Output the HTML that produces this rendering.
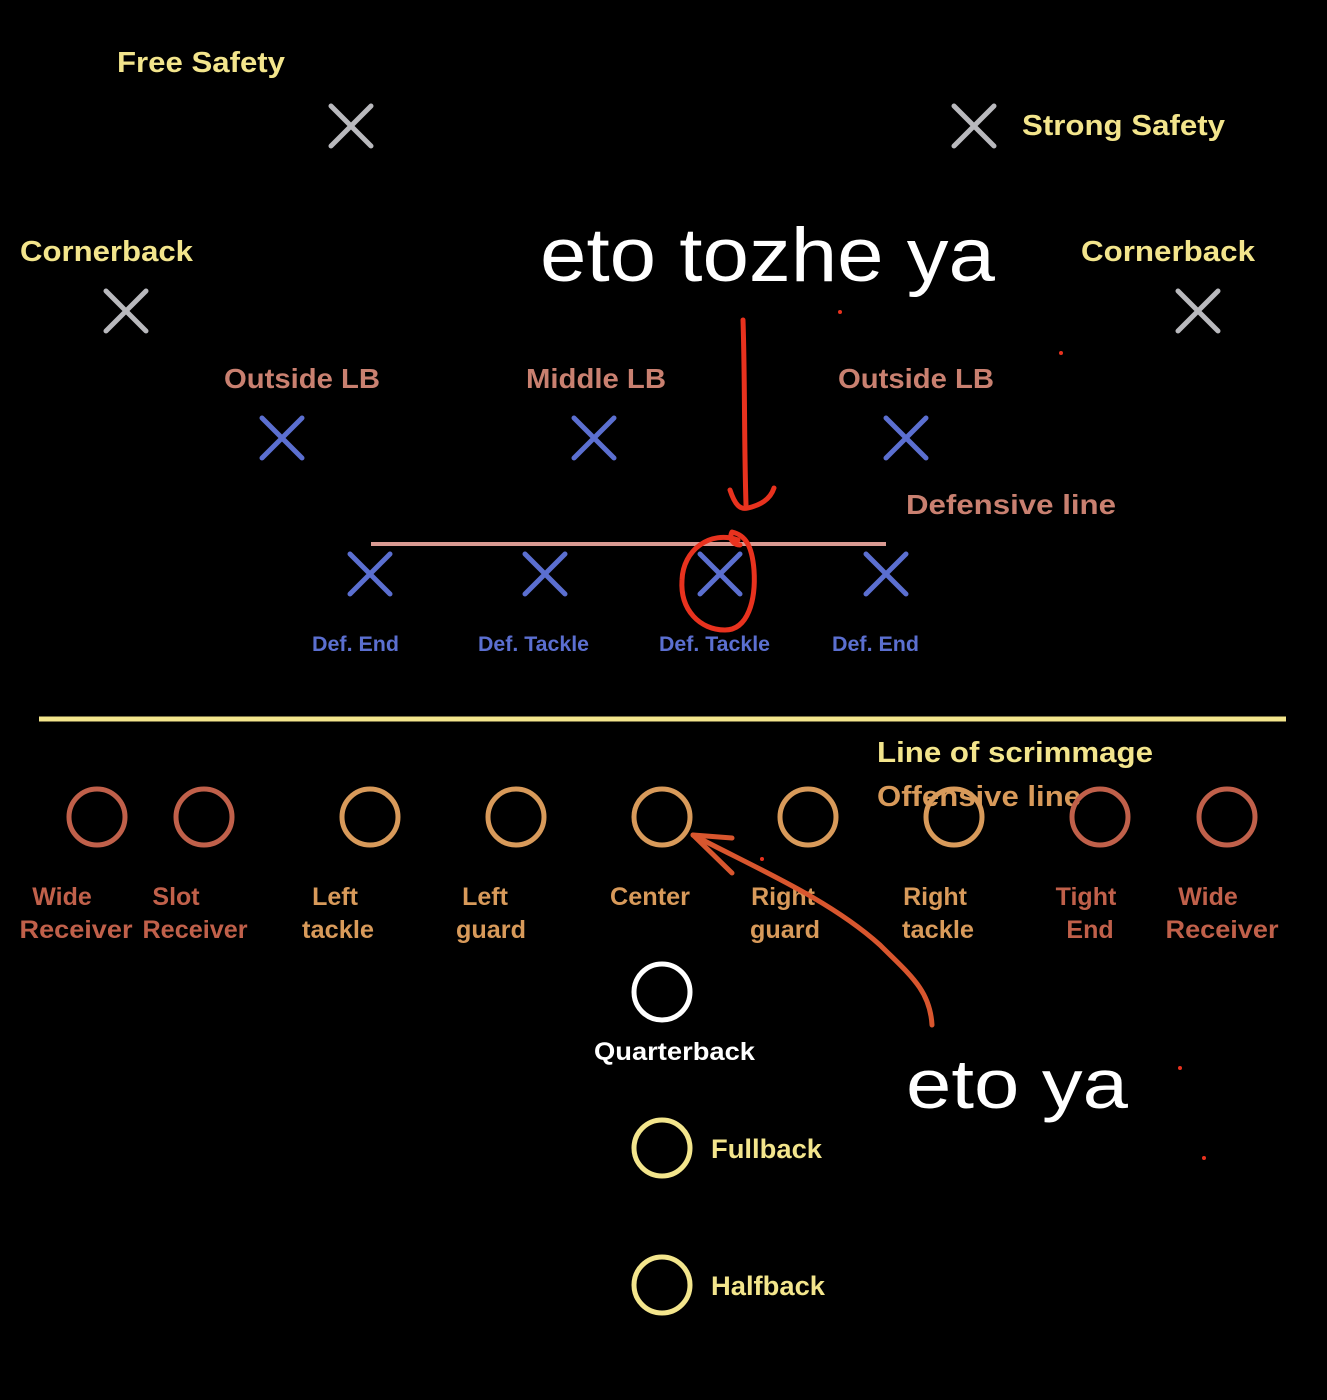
<!DOCTYPE html>
<html><head><style>
html,body{margin:0;padding:0;background:#000;}
svg{display:block;}
text{font-family:"Liberation Sans",sans-serif;font-weight:bold;}
</style></head><body>
<svg width="1327" height="1400" viewBox="0 0 1327 1400">
<rect width="1327" height="1400" fill="#000"/>
<g font-size="29" fill="#f3e58c">
<text x="117" y="72" textLength="168" lengthAdjust="spacingAndGlyphs">Free Safety</text>
<text x="1022" y="135" textLength="203" lengthAdjust="spacingAndGlyphs">Strong Safety</text>
<text x="20" y="261" textLength="173" lengthAdjust="spacingAndGlyphs">Cornerback</text>
<text x="1081" y="261" textLength="174" lengthAdjust="spacingAndGlyphs">Cornerback</text>
</g>
<g stroke="#b9b9bd" stroke-width="5" stroke-linecap="round">
<path d="M331 106l40 40M371 106l-40 40"/>
<path d="M954 106l40 40M994 106l-40 40"/>
<path d="M106 291l40 40M146 291l-40 40"/>
<path d="M1178 291l40 40M1218 291l-40 40"/>
</g>
<g font-size="28" fill="#c98070">
<text x="224" y="388" textLength="156" lengthAdjust="spacingAndGlyphs">Outside LB</text>
<text x="526" y="388" textLength="140" lengthAdjust="spacingAndGlyphs">Middle LB</text>
<text x="838" y="388" textLength="156" lengthAdjust="spacingAndGlyphs">Outside LB</text>
<text x="906" y="514" textLength="210" lengthAdjust="spacingAndGlyphs">Defensive line</text>
</g>
<g stroke="#5b6fd0" stroke-width="5" stroke-linecap="round">
<path d="M262 418l40 40M302 418l-40 40"/>
<path d="M574 418l40 40M614 418l-40 40"/>
<path d="M886 418l40 40M926 418l-40 40"/>
<path d="M350 554l40 40M390 554l-40 40"/>
<path d="M525 554l40 40M565 554l-40 40"/>
<path d="M700 554l40 40M740 554l-40 40"/>
<path d="M866 554l40 40M906 554l-40 40"/>
</g>
<line x1="371" y1="544" x2="886" y2="544" stroke="#d99a92" stroke-width="4"/>
<g font-size="21" fill="#5b6fd0">
<text x="312" y="651" textLength="87" lengthAdjust="spacingAndGlyphs">Def. End</text>
<text x="478" y="651" textLength="111" lengthAdjust="spacingAndGlyphs">Def. Tackle</text>
<text x="659" y="651" textLength="111" lengthAdjust="spacingAndGlyphs">Def. Tackle</text>
<text x="832" y="651" textLength="87" lengthAdjust="spacingAndGlyphs">Def. End</text>
</g>
<line x1="39" y1="719" x2="1286" y2="719" stroke="#f3e58c" stroke-width="5"/>
<text x="877" y="762" font-size="29" fill="#f3e58c" textLength="276" lengthAdjust="spacingAndGlyphs">Line of scrimmage</text>
<text x="877" y="806" font-size="29" fill="#d89a5a" textLength="204" lengthAdjust="spacingAndGlyphs">Offensive line</text>
<g fill="none" stroke-width="5">
<circle cx="97" cy="817" r="28" stroke="#c0604a"/>
<circle cx="204" cy="817" r="28" stroke="#c0604a"/>
<circle cx="370" cy="817" r="28" stroke="#d89a5a"/>
<circle cx="516" cy="817" r="28" stroke="#d89a5a"/>
<circle cx="662" cy="817" r="28" stroke="#d89a5a"/>
<circle cx="808" cy="817" r="28" stroke="#d89a5a"/>
<circle cx="954" cy="817" r="28" stroke="#d89a5a"/>
<circle cx="1100" cy="817" r="28" stroke="#c0604a"/>
<circle cx="1227" cy="817" r="28" stroke="#c0604a"/>
<circle cx="662" cy="992" r="28" stroke="#fff"/>
<circle cx="662" cy="1148" r="28" stroke="#f3e58c"/>
<circle cx="662" cy="1285" r="28" stroke="#f3e58c"/>
</g>
<g font-size="25" fill="#c0604a" text-anchor="middle">
<text x="62" y="905">Wide</text><text x="76" y="938" textLength="113" lengthAdjust="spacingAndGlyphs">Receiver</text>
<text x="176" y="905">Slot</text><text x="195" y="938" textLength="105" lengthAdjust="spacingAndGlyphs">Receiver</text>
<text x="1086" y="905">Tight</text><text x="1090" y="938">End</text>
<text x="1208" y="905">Wide</text><text x="1222" y="938" textLength="113" lengthAdjust="spacingAndGlyphs">Receiver</text>
</g>
<g font-size="25" fill="#d89a5a" text-anchor="middle">
<text x="335" y="905">Left</text><text x="338" y="938" textLength="72" lengthAdjust="spacingAndGlyphs">tackle</text>
<text x="485" y="905">Left</text><text x="491" y="938" textLength="70" lengthAdjust="spacingAndGlyphs">guard</text>
<text x="650" y="905" textLength="80" lengthAdjust="spacingAndGlyphs">Center</text>
<text x="783" y="905">Right</text><text x="785" y="938" textLength="70" lengthAdjust="spacingAndGlyphs">guard</text>
<text x="935" y="905">Right</text><text x="938" y="938" textLength="72" lengthAdjust="spacingAndGlyphs">tackle</text>
</g>
<text x="594" y="1060" font-size="25" fill="#fff" textLength="161" lengthAdjust="spacingAndGlyphs">Quarterback</text>
<text x="711" y="1158" font-size="27" fill="#f3e58c" textLength="111" lengthAdjust="spacingAndGlyphs">Fullback</text>
<text x="711" y="1295" font-size="27" fill="#f3e58c" textLength="114" lengthAdjust="spacingAndGlyphs">Halfback</text>
<text x="540" y="281" font-size="76" fill="#fff" style="font-weight:normal" textLength="455" lengthAdjust="spacingAndGlyphs">eto tozhe ya</text>
<text x="906" y="1108" font-size="70" fill="#fff" style="font-weight:normal" textLength="222" lengthAdjust="spacingAndGlyphs">eto ya</text>
<g fill="none" stroke="#e8321e" stroke-width="5" stroke-linecap="round" stroke-linejoin="round">
<path d="M743 320 C745 380 744 440 746 505"/>
<path d="M730 490 C735 505 740 510 748 508 C760 505 770 500 774 488"/>
<path d="M738 540 C710 530 683 550 682 580 C680 610 700 630 725 630 C748 630 756 600 754 570 C752 545 745 535 732 532 C728 540 735 545 740 545"/>
</g>
<g fill="none" stroke="#d8562e" stroke-width="5" stroke-linecap="round">
<path d="M932 1025 C930 990 910 975 880 945 C830 900 760 870 693 835"/>
<path d="M693 835 L732 838"/>
<path d="M693 835 L732 873"/>
</g>
<g fill="#e8321e"><circle cx="840" cy="312" r="2"/><circle cx="1061" cy="353" r="2"/><circle cx="762" cy="859" r="2"/><circle cx="1180" cy="1068" r="2"/><circle cx="1204" cy="1158" r="2"/></g>
</svg>
</body></html>
